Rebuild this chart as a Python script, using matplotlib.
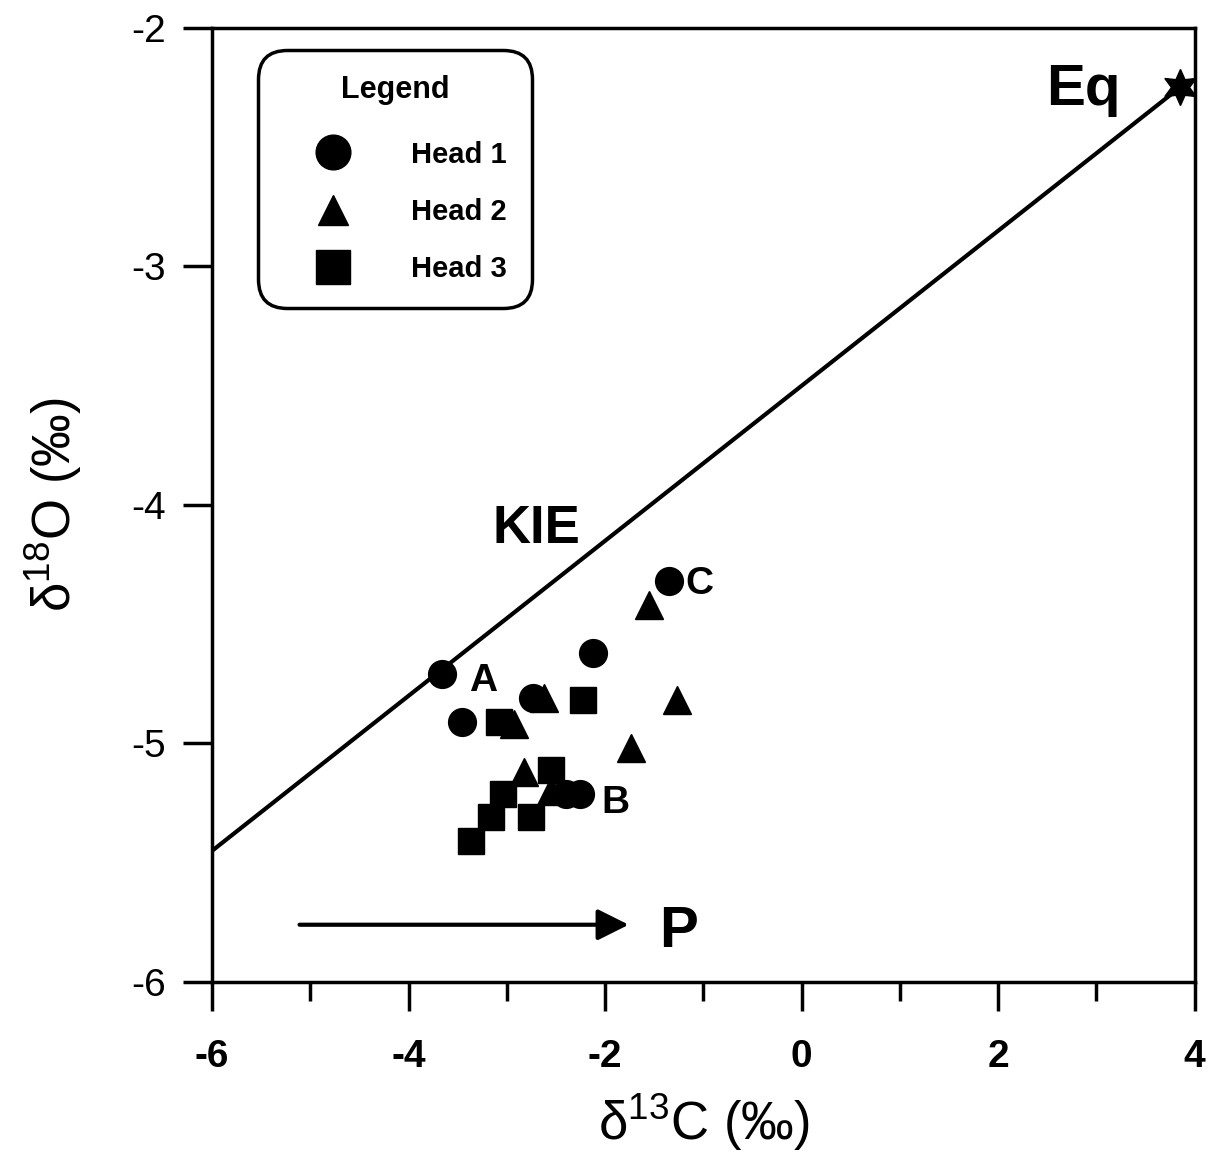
import matplotlib
matplotlib.use("Agg")
import matplotlib.pyplot as plt
from matplotlib.lines import Line2D
from matplotlib.ticker import MultipleLocator

plt.rcParams['font.family'] = ['Liberation Sans', 'DejaVu Sans']
plt.rcParams['mathtext.fontset'] = 'custom'
plt.rcParams['mathtext.rm'] = 'Liberation Sans'
plt.rcParams['mathtext.it'] = 'Liberation Sans'
plt.rcParams['axes.unicode_minus'] = False

# Data (d13C, d18O) per/mil
head1_x = [-3.66, -3.46, -2.73, -2.12, -1.35, -2.26, -2.40]
head1_y = [-4.71, -4.91, -4.81, -4.62, -4.32, -5.21, -5.21]
head2_x = [-1.55, -1.27, -1.74, -2.62, -2.93, -2.83, -2.55]
head2_y = [-4.42, -4.82, -5.02, -4.81, -4.92, -5.12, -5.20]
head3_x = [-2.22, -3.08, -2.55, -3.04, -3.16, -2.75, -3.37]
head3_y = [-4.82, -4.91, -5.11, -5.21, -5.31, -5.31, -5.41]

kie_x = [-6.0, 3.85]
kie_y = [-5.45, -2.25]
eq_x, eq_y = 3.85, -2.25

point_labels = ["A", "B", "C"]
point_label_x = [-3.38, -2.04, -1.18]
point_label_y = [-4.74, -5.25, -4.33]

arrow_x = [-5.11, -1.76]
arrow_y = [-5.76, -5.76]

xticks = [-6, -4, -2, 0, 2, 4]
yticks = [-2, -3, -4, -5, -6]

fig = plt.figure(figsize=(12.19, 11.58), dpi=100)
ax = fig.add_axes([0.174, 0.152, 0.806, 0.824])

ax.plot(kie_x, kie_y, color='black', lw=3, zorder=2)
ax.plot([eq_x], [eq_y], marker=(6, 1, 0), ms=26, color='black', zorder=4, clip_on=False)

ms = 20
ax.plot(head1_x, head1_y, 'o', ms=ms, color='black', ls='none', zorder=3)
ax.plot(head2_x, head2_y, '^', ms=ms, color='black', ls='none', zorder=3)
ax.plot(head3_x, head3_y, 's', ms=ms - 1, color='black', ls='none', zorder=3)

for t, x, y in zip(point_labels, point_label_x, point_label_y):
    ax.text(x, y, t, fontsize=28, fontweight='bold', ha='left', va='center')

ax.text(2.87, -2.26, "Eq", fontsize=42, fontweight='bold', ha='center', va='center')
ax.text(-2.70, -4.10, "KIE", fontsize=38, fontweight='bold', ha='center', va='center')
ax.text(-1.25, -5.79, "P", fontsize=42, fontweight='bold', ha='center', va='center')

ax.annotate('', xy=(arrow_x[1], arrow_y[1]), xytext=(arrow_x[0], arrow_y[0]),
            arrowprops=dict(arrowstyle='-|>,head_length=1.9,head_width=0.95',
                            lw=3, color='black', shrinkA=0, shrinkB=0))

ax.set_xlim(-6, 4)
ax.set_ylim(-6, -2)
ax.set_xticks(xticks)
ax.set_yticks(yticks)
ax.xaxis.set_minor_locator(MultipleLocator(1))
ax.tick_params(axis='both', which='major', direction='out', length=21, width=2.5)
ax.tick_params(axis='x', which='minor', direction='out', length=14, width=2.5)
ax.tick_params(axis='x', which='major', labelsize=28, pad=20)
ax.tick_params(axis='y', which='major', labelsize=28, pad=12)
for lab in ax.get_xticklabels():
    lab.set_fontweight('bold')
for s in ax.spines.values():
    s.set_linewidth(2.5)

ax.set_xlabel('δ$^{\\mathregular{13}}$C (‰)', fontsize=38, labelpad=12)
ax.set_ylabel('δ$^{\\mathregular{18}}$O (‰)', fontsize=38, labelpad=34)

handles = [Line2D([], [], marker='o', ls='none', color='black', ms=25),
           Line2D([], [], marker='^', ls='none', color='black', ms=22),
           Line2D([], [], marker='s', ls='none', color='black', ms=24)]
leg = ax.legend(handles, ["Head 1", "Head 2", "Head 3"], title="Legend",
                loc='upper left', bbox_to_anchor=(0.047, 0.977),
                prop={'size': 21, 'weight': 'bold'},
                title_fontproperties={'size': 22, 'weight': 'bold'},
                numpoints=1, handlelength=3.4, handletextpad=1.0,
                labelspacing=1.0, borderpad=0.85, borderaxespad=0,
                fancybox=True, framealpha=1, edgecolor='black')
leg.get_frame().set_linewidth(2.5)
leg.get_frame().set_boxstyle('round,pad=0,rounding_size=1.0')
leg._legend_box.sep = 26

fig.savefig('out.png', dpi=100)
